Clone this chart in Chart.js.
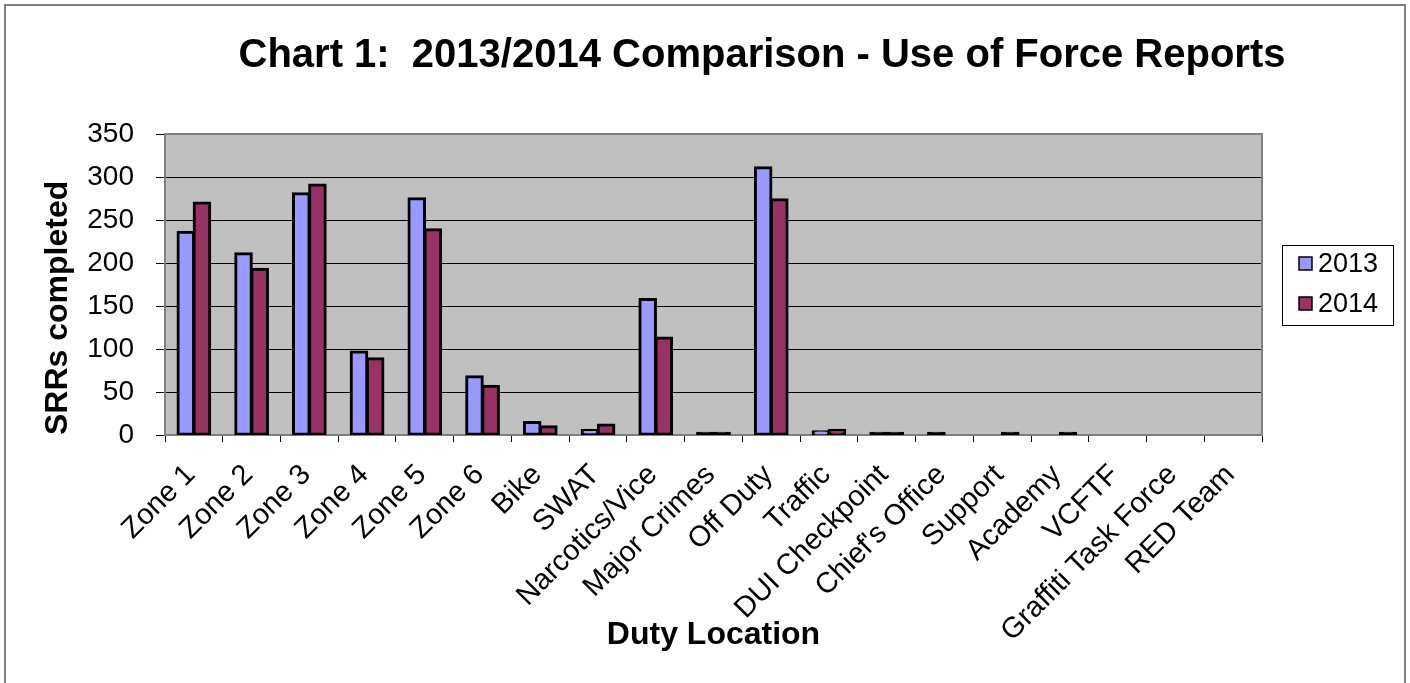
<!DOCTYPE html>
<html>
<head>
<meta charset="utf-8">
<title>Use of Force Reports 2013/2014</title>
<script src="https://cdn.jsdelivr.net/npm/chart.js@4.4.1/dist/chart.umd.min.js"></script>
<style>
  html, body { margin: 0; padding: 0; background: #ffffff; }
  #wrap { width: 1410px; height: 683px; }
</style>
</head>
<body>
<div id="wrap"><canvas id="chart" width="1410" height="683"></canvas></div>
<script>
// Duty locations along the x axis
const locations = [
  'Zone 1', 'Zone 2', 'Zone 3', 'Zone 4', 'Zone 5', 'Zone 6', 'Bike', 'SWAT',
  'Narcotics/Vice', 'Major Crimes', 'Off Duty', 'Traffic', 'DUI Checkpoint',
  "Chief's Office", 'Support', 'Academy', 'VCFTF', 'Graffiti Task Force', 'RED Team'
];

// SRRs completed per duty location
const srr2013 = [236, 211, 281, 97, 275, 68, 15, 6, 158, 1, 311, 4, 1, 1, 0, 0, 0, 0, 0];
const srr2014 = [270, 193, 291, 89, 239, 57, 10, 12, 113, 2, 274, 6, 1, 0, 1, 2, 0, 0, 0];

// Value axis ticks
const yTicks = [0, 50, 100, 150, 200, 250, 300, 350];

// Series fill colours
const seriesColors = { '2013': '#9999FF', '2014': '#993366' };

const FONT = "'Liberation Sans', Arial, sans-serif";
const PLOT_LEFT = 165, PLOT_BOTTOM = 435;

// Zero counts draw no bar at all; small non-zero counts keep a visible sliver
const asBars = arr => arr.map(v => (v === 0 ? null : v));

const frame = {
  id: 'frame',
  beforeDraw(chart) {
    const { ctx, chartArea: a } = chart;
    ctx.save();
    ctx.fillStyle = '#ffffff';
    ctx.fillRect(0, 0, chart.width, chart.height);
    ctx.strokeStyle = '#808080';
    ctx.lineWidth = 2;
    ctx.strokeRect(5, 5, 1400, 700);
    ctx.fillStyle = '#C0C0C0';
    ctx.fillRect(a.left, a.top, a.right - a.left, a.bottom - a.top);
    ctx.restore();
  },
  afterDraw(chart) {
    const { ctx, chartArea: a } = chart;
    ctx.save();
    // plot area outline (top and right)
    ctx.strokeStyle = '#808080';
    ctx.lineWidth = 2;
    ctx.beginPath();
    ctx.moveTo(a.left, a.top);
    ctx.lineTo(a.right, a.top);
    ctx.lineTo(a.right, a.bottom);
    ctx.stroke();

    // chart title
    ctx.fillStyle = '#000';
    ctx.font = 'bold 40px ' + FONT;
    ctx.textAlign = 'center';
    ctx.textBaseline = 'middle';
    ctx.fillText('Chart 1:  2013/2014 Comparison - Use of Force Reports', 762, 56);

    // legend
    ctx.strokeStyle = '#000';
    ctx.lineWidth = 1;
    ctx.strokeRect(1282.5, 245.5, 111, 80);
    ctx.font = '27px ' + FONT;
    ctx.textAlign = 'left';
    chart.data.datasets.forEach((ds, i) => {
      const cy = 264 + i * 40;
      ctx.fillStyle = seriesColors[ds.label];
      ctx.fillRect(1299, cy - 7, 13, 13);
      ctx.lineWidth = 1.5;
      ctx.strokeRect(1299, cy - 7, 13, 13);
      ctx.fillStyle = '#000';
      ctx.fillText(ds.label, 1318, cy + 1);
    });
    ctx.restore();
  }
};

// Bars outlined in black; very short bars are all outline
const barStyle = label => ({
  label,
  backgroundColor: ctx => (ctx.raw !== null && ctx.raw !== undefined && ctx.raw < 3) ? '#000000' : seriesColors[label],
  borderColor: '#000000',
  borderWidth: 3,
  borderSkipped: false,
  inflateAmount: 1.2,
  minBarLength: 2
});

new Chart(document.getElementById('chart'), {
  type: 'bar',
  data: {
    labels: locations,
    datasets: [
      Object.assign(barStyle('2013'), { data: asBars(srr2013) }),
      Object.assign(barStyle('2014'), { data: asBars(srr2014) })
    ]
  },
  options: {
    responsive: false,
    animation: false,
    events: [],
    datasets: { bar: { categoryPercentage: 0.56, barPercentage: 1.0 } },
    layout: { padding: { top: 134, left: 30, right: 148, bottom: 0 } },
    plugins: {
      legend: { display: false },
      title: { display: false },
      tooltip: { enabled: false }
    },
    scales: {
      x: {
        offset: true,
        grid: {
          display: true,
          offset: true,
          drawOnChartArea: false,
          drawTicks: true,
          tickLength: 7,
          tickColor: '#000000'
        },
        border: { display: true, color: '#808080', width: 2 },
        ticks: {
          color: '#000',
          font: { family: FONT, size: 29 },
          minRotation: 45,
          maxRotation: 45,
          autoSkip: false,
          padding: 16,
          labelOffset: -3
        },
        title: {
          display: true,
          text: 'Duty Location',
          color: '#000',
          font: { family: FONT, size: 32, weight: 'bold' },
          padding: { top: 0, bottom: 29 }
        },
        afterFit(scale) { scale.height = 683 - PLOT_BOTTOM; }
      },
      y: {
        min: 0,
        max: 350,
        afterBuildTicks(scale) { scale.ticks = yTicks.map(v => ({ value: v })); },
        grid: {
          color: ctx => (ctx.tick && (ctx.tick.value === 0 || ctx.tick.value === 350)) ? 'rgba(0,0,0,0)' : '#000000',
          lineWidth: 1,
          drawTicks: true,
          tickLength: 9,
          tickColor: '#000000'
        },
        border: { display: true, color: '#808080', width: 2 },
        ticks: {
          color: '#000',
          font: { family: FONT, size: 28 },
          padding: 22
        },
        title: {
          display: true,
          text: 'SRRs completed',
          align: 'start',
          color: '#000',
          font: { family: FONT, size: 32, weight: 'bold' },
          padding: { top: 9, bottom: 0 }
        },
        afterFit(scale) { scale.width = PLOT_LEFT - 30; }
      }
    }
  },
  plugins: [frame]
});
</script>
</body>
</html>
